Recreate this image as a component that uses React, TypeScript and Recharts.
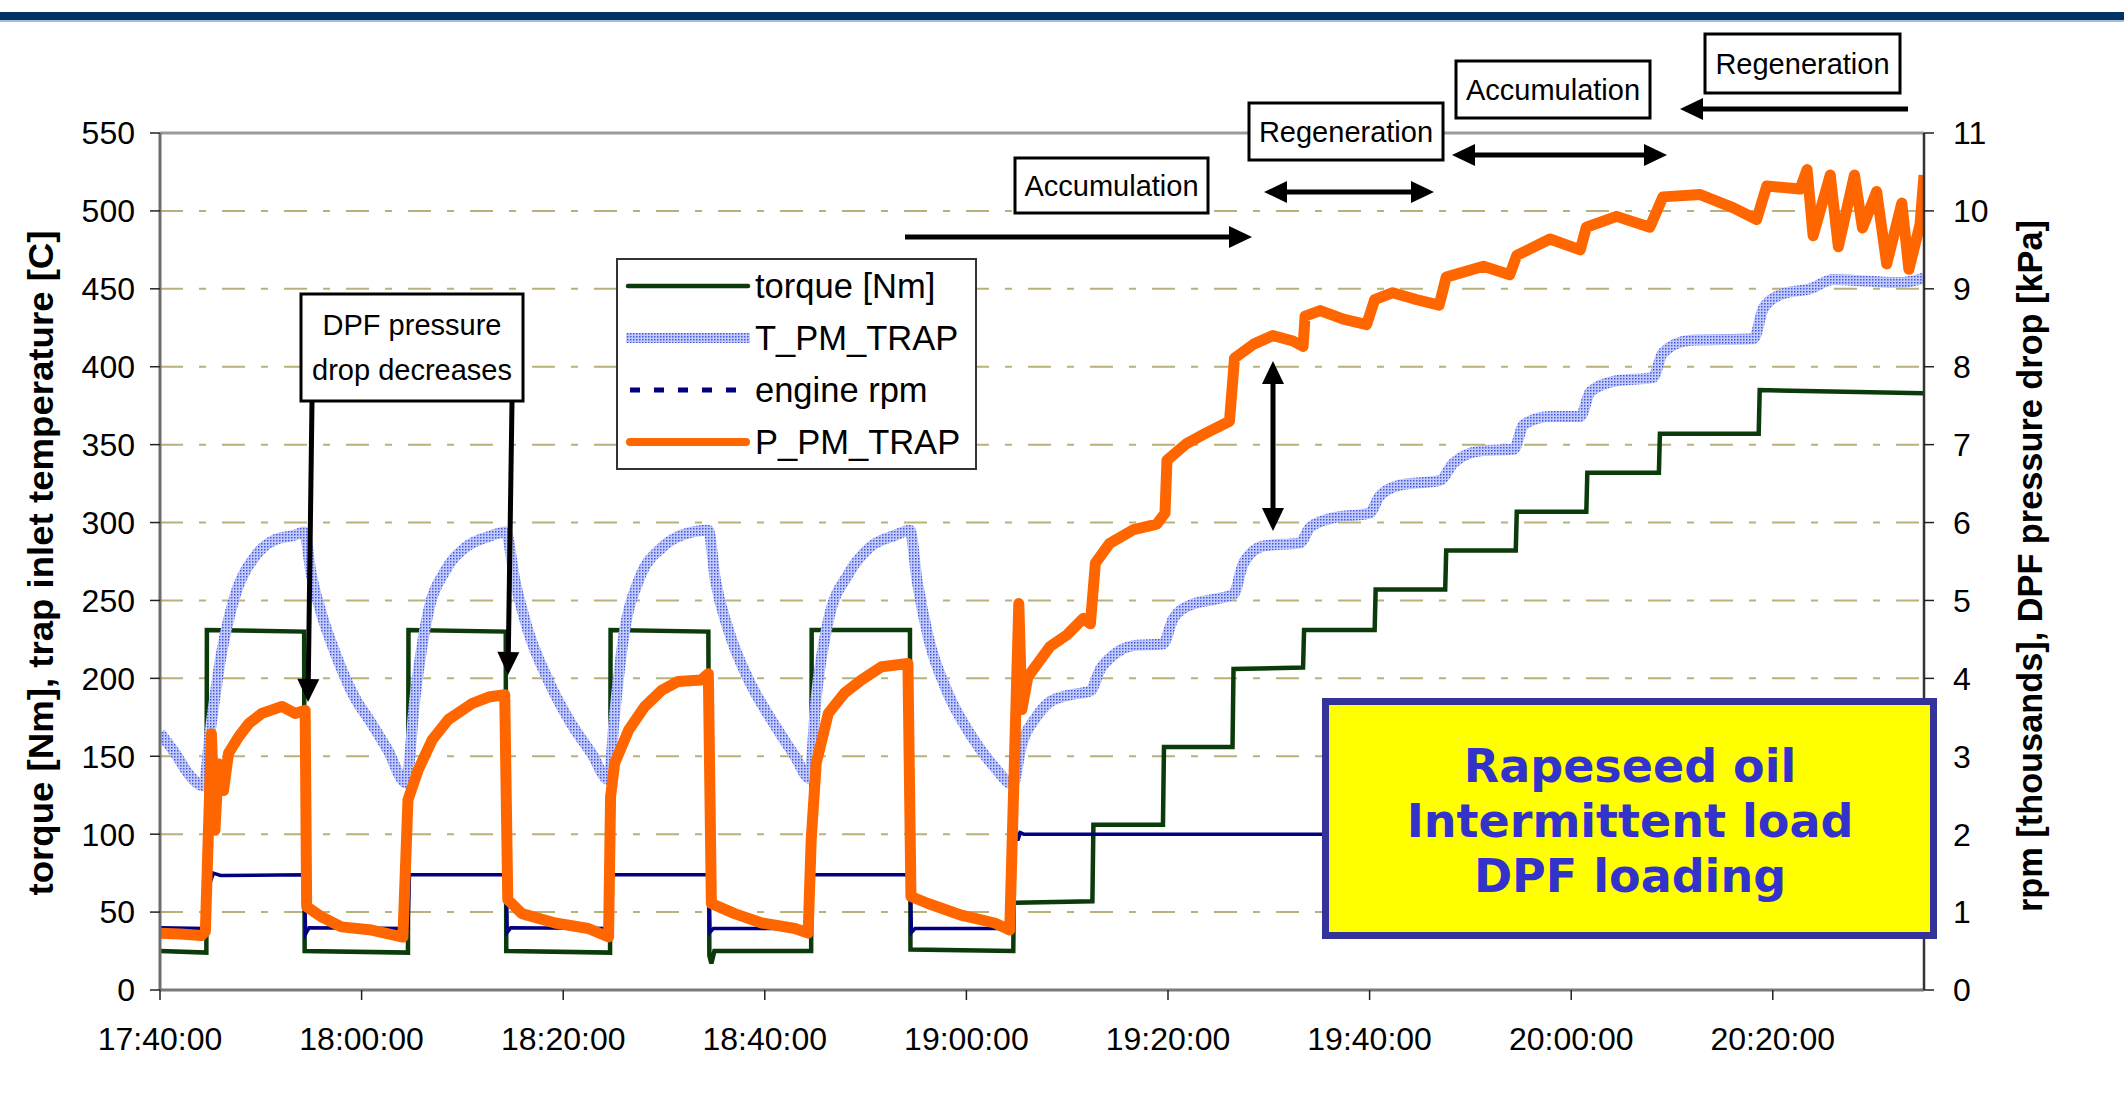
import React from 'react';
import { LineChart, Line, XAxis, YAxis, CartesianGrid, ReferenceLine } from 'recharts';

// time axis: minutes after 17:40:00
const xTicks = [0, 20, 40, 60, 80, 100, 120, 140, 160];
const xTickLabels = ['17:40:00', '18:00:00', '18:20:00', '18:40:00', '19:00:00', '19:20:00', '19:40:00', '20:00:00', '20:20:00'];
const leftTicks = [0, 50, 100, 150, 200, 250, 300, 350, 400, 450, 500, 550];
const rightTicks = [0, 1, 2, 3, 4, 5, 6, 7, 8, 9, 10, 11];

// torque [Nm]
const torqueT = [0, 4.6, 4.65, 14.3, 14.35, 24.6, 24.65, 34.3, 34.35, 44.65, 44.7, 54.4, 54.5, 54.7, 55, 64.6, 64.65, 74.4, 74.45, 84.65, 84.7, 92.5, 92.6, 99.5, 99.6, 106.4, 106.5, 113.4, 113.5, 120.5, 120.6, 127.5, 127.6, 134.5, 134.6, 141.5, 141.6, 148.7, 148.8, 158.6, 158.7, 175];
const torqueV = [25, 24, 231, 230, 25, 24, 231, 230, 25, 24, 231, 230, 22, 17, 25, 25, 231, 231, 26, 25, 56, 57, 106, 106, 156, 156, 206, 207, 231, 231, 257, 257, 282, 282, 307, 307, 332, 332, 357, 357, 385, 383];

// T_PM_TRAP [C]
const tpmT = [0, 1.5, 2.8, 4.3, 5.0, 6.1, 7.4, 9.4, 11.4, 13.4, 14.3, 15.0, 16.0, 17.4, 19.3, 21.0, 22.6, 24.4, 25.3, 26.6, 28.3, 30.3, 32.6, 34.3, 35.2, 36.5, 38.5, 40.8, 42.8, 44.5, 45.1, 46.1, 47.5, 49.8, 51.8, 54.4, 55.1, 56.4, 58.4, 60.7, 63.0, 64.4, 65.1, 66.3, 68.3, 70.4, 73.0, 74.4, 75.1, 76.2, 78.2, 80.5, 82.8, 84.6, 85.5, 86.8, 88.3, 90.0, 92.3, 93.3, 94.6, 96.6, 99.5, 100.5, 102.2, 104.8, 106.5, 107.5, 109.5, 113.1, 114.1, 116.4, 120.0, 121.0, 123.0, 127.0, 128.3, 131.0, 134.3, 135.3, 137.9, 140.9, 141.9, 144.5, 148.1, 149.1, 151.8, 158.1, 159.1, 161.1, 163.7, 166.0, 169.3, 172.6, 175];
const tpmV = [165, 152, 139, 131, 167, 216, 252, 278, 289, 292, 294, 267, 242, 216, 188, 171, 154, 133, 188, 242, 269, 284, 291, 294, 263, 231, 199, 171, 152, 135, 177, 231, 263, 284, 292, 295, 263, 231, 199, 173, 150, 136, 188, 237, 267, 284, 292, 295, 263, 227, 190, 163, 143, 132, 158, 174, 185, 189, 192, 206, 215, 221, 222, 238, 247, 251, 254, 274, 285, 287, 297, 303, 306, 317, 324, 327, 338, 346, 347, 363, 368, 368, 384, 391, 393, 409, 417, 418, 438, 447, 450, 456, 455, 454, 457];

// engine rpm [thousands]
const rpmT = [0, 4.55, 4.7, 4.95, 5.3, 6, 14.3, 14.45, 14.8, 24.6, 24.75, 34.3, 34.45, 34.8, 44.65, 44.8, 54.4, 54.55, 54.9, 64.6, 64.75, 74.4, 74.55, 74.9, 84.65, 84.8, 85.1, 85.35, 85.7, 175];
const rpmV = [0.80, 0.79, 1.72, 1.37, 1.50, 1.47, 1.48, 0.72, 0.80, 0.79, 1.48, 1.48, 0.74, 0.80, 0.79, 1.48, 1.48, 0.74, 0.79, 0.79, 1.48, 1.48, 0.74, 0.79, 0.79, 2.20, 1.92, 2.02, 2.00, 2.00];

// P_PM_TRAP, DPF pressure drop [kPa]
const ppmT = [0, 2, 4.1, 4.5, 5.1, 5.45, 5.8, 6.3, 6.8, 7.8, 8.8, 10.1, 12.1, 13.4, 14.4, 14.55, 16.0, 18.0, 21.0, 24.1, 24.6, 25.6, 27.0, 28.6, 31.0, 32.6, 34.2, 34.5, 35.9, 39.2, 42.5, 44.5, 44.7, 45.1, 46.5, 48.1, 49.8, 51.4, 53.7, 54.4, 54.7, 57.0, 59.7, 63.0, 64.3, 64.6, 65.1, 66.3, 67.9, 69.6, 71.6, 74.2, 74.5, 76.2, 79.5, 82.8, 84.3, 85.2, 85.5, 86.1, 88.3, 90.0, 91.6, 92.3, 92.8, 94.2, 96.6, 98.9, 99.7, 99.9, 101.8, 103.8, 106.1, 106.6, 108.5, 110.4, 112.4, 113.4, 113.6, 115.1, 117.4, 119.7, 120.5, 122.3, 124.7, 126.9, 127.6, 131.3, 133.9, 134.6, 137.9, 140.9, 141.5, 144.5, 147.8, 149.1, 152.8, 156.1, 158.4, 159.4, 162.7, 163.4, 164.0, 165.7, 166.5, 168.1, 168.9, 170.3, 171.3, 172.8, 173.5, 174.6, 175];
const ppmV = [0.73, 0.72, 0.70, 0.75, 3.29, 2.05, 2.90, 2.56, 3.04, 3.25, 3.42, 3.55, 3.64, 3.55, 3.59, 1.07, 0.94, 0.81, 0.77, 0.68, 2.44, 2.82, 3.21, 3.47, 3.68, 3.76, 3.79, 1.16, 0.98, 0.86, 0.79, 0.68, 2.48, 2.91, 3.34, 3.64, 3.85, 3.96, 3.98, 4.06, 1.11, 0.98, 0.86, 0.79, 0.73, 1.92, 2.91, 3.55, 3.81, 3.98, 4.15, 4.19, 1.20, 1.11, 0.96, 0.86, 0.77, 4.96, 3.60, 4.02, 4.41, 4.56, 4.77, 4.70, 5.48, 5.73, 5.91, 5.98, 6.12, 6.80, 7.01, 7.15, 7.30, 8.11, 8.29, 8.40, 8.33, 8.26, 8.65, 8.72, 8.61, 8.54, 8.86, 8.95, 8.86, 8.79, 9.15, 9.29, 9.18, 9.43, 9.64, 9.50, 9.79, 9.93, 9.79, 10.18, 10.21, 10.04, 9.89, 10.32, 10.28, 10.53, 9.68, 10.46, 9.54, 10.46, 9.78, 10.25, 9.32, 10.10, 9.25, 9.82, 10.46];

const zip = (ts: number[], vs: number[]) => ts.map((t, i) => ({ t, v: vs[i] }));

const FONT = "'Liberation Sans', Arial, sans-serif";

function Arrow({ x1, y1, x2, y2, both }: { x1: number; y1: number; x2: number; y2: number; both?: boolean }) {
  const len = Math.hypot(x2 - x1, y2 - y1);
  const ux = (x2 - x1) / len;
  const uy = (y2 - y1) / len;
  const hl = 23;
  const hw = 11;
  const head = (tx: number, ty: number, dx: number, dy: number) => {
    const bx = tx - dx * hl;
    const by = ty - dy * hl;
    return `${tx},${ty} ${bx - dy * hw},${by + dx * hw} ${bx + dy * hw},${by - dx * hw}`;
  };
  const sx = both ? x1 + ux * (hl - 2) : x1;
  const sy = both ? y1 + uy * (hl - 2) : y1;
  return (
    <g>
      <line x1={sx} y1={sy} x2={x2 - ux * (hl - 2)} y2={y2 - uy * (hl - 2)} stroke="#000" strokeWidth={5} />
      <polygon points={head(x2, y2, ux, uy)} fill="#000" />
      {both && <polygon points={head(x1, y1, -ux, -uy)} fill="#000" />}
    </g>
  );
}

function NoteBox({ x, y, w, h, lines }: { x: number; y: number; w: number; h: number; lines: string[] }) {
  const cx = x + w / 2;
  const step = 45;
  const first = y + h / 2 + 10 - ((lines.length - 1) * step) / 2;
  return (
    <g>
      <rect x={x} y={y} width={w} height={h} fill="#fff" stroke="#000" strokeWidth={3} />
      {lines.map((l, i) => (
        <text key={l} x={cx} y={first + i * step} textAnchor="middle" fontFamily={FONT} fontSize={29} fill="#000">
          {l}
        </text>
      ))}
    </g>
  );
}

const legendRows = [
  { name: 'torque [Nm]', kind: 'torque' },
  { name: 'T_PM_TRAP', kind: 'tpm' },
  { name: 'engine rpm', kind: 'rpm' },
  { name: 'P_PM_TRAP', kind: 'ppm' },
];

function Overlay() {
  return (
    <svg width={2124} height={1098} style={{ position: 'absolute', left: 0, top: 0, pointerEvents: 'none' }}>
      <defs>
        <pattern id="tpmLegend" patternUnits="userSpaceOnUse" width="3" height="3">
          <rect width="3" height="3" fill="#C3CBFA" />
          <rect width="1.5" height="1.5" fill="#4458E2" />
        </pattern>
      </defs>
      {/* header band */}
      <rect x={0} y={12} width={2124} height={8} fill="#003366" />
      <rect x={0} y={20} width={2124} height={2} fill="#A9BCD6" />

      {/* legend */}
      <rect x={617} y={259} width={359} height={210} fill="#fff" stroke="#333" strokeWidth={2} />
      {legendRows.map((r, i) => {
        const cy = 286 + i * 52;
        return (
          <g key={r.name}>
            {r.kind === 'torque' && <line x1={628} x2={748} y1={cy} y2={cy} stroke="#0B3B0B" strokeWidth={4.5} strokeLinecap="round" />}
            {r.kind === 'tpm' && <rect x={626} y={cy - 5} width={124} height={10} fill="url(#tpmLegend)" />}
            {r.kind === 'rpm' && <line x1={630} x2={748} y1={cy} y2={cy} stroke="#000080" strokeWidth={5} strokeDasharray="10 14" />}
            {r.kind === 'ppm' && <line x1={630} x2={746} y1={cy} y2={cy} stroke="#FF6600" strokeWidth={8} strokeLinecap="round" />}
            <text x={755} y={cy + 12} fontFamily={FONT} fontSize={34.5} fill="#000">
              {r.name}
            </text>
          </g>
        );
      })}

      {/* annotations */}
      <NoteBox x={301} y={294} w={222} h={107} lines={['DPF pressure', 'drop decreases']} />
      <Arrow x1={312} y1={402} x2={308} y2={702} />
      <Arrow x1={512} y1={402} x2={508} y2={675} />

      <NoteBox x={1015} y={158} w={193} h={55} lines={['Accumulation']} />
      <Arrow x1={905} y1={237} x2={1252} y2={237} />
      <NoteBox x={1249} y={103} w={194} h={57} lines={['Regeneration']} />
      <Arrow x1={1264} y1={192} x2={1434} y2={192} both />
      <NoteBox x={1456} y={61} w={194} h={57} lines={['Accumulation']} />
      <Arrow x1={1452} y1={155} x2={1667} y2={155} both />
      <NoteBox x={1705} y={34} w={195} h={59} lines={['Regeneration']} />
      <Arrow x1={1908} y1={109} x2={1680} y2={109} />
      <Arrow x1={1273} y1={361} x2={1273} y2={531} both />

      {/* highlighted caption */}
      <rect x={1325.5} y={701.5} width={608} height={234} fill="#FFFF00" stroke="#333399" strokeWidth={7} />
      {['Rapeseed oil', 'Intermittent load', 'DPF loading'].map((l, i) => (
        <text key={l} x={1630} y={782 + i * 55} textAnchor="middle" fontFamily="'DejaVu Sans', Verdana, sans-serif" fontWeight="bold" fontSize={46} fill="#3333CC">
          {l}
        </text>
      ))}
    </svg>
  );
}

export default function App() {
  const tick = { fill: '#000', fontSize: 32, fontFamily: FONT };
  return (
    <div style={{ position: 'absolute', left: 0, top: 0, width: 2124, height: 1098, background: '#fff' }}>
      <LineChart width={2124} height={1098} margin={{ top: 133, right: 0, bottom: 0, left: 0 }}>
        <defs>
          <pattern id="tpmStroke" patternUnits="userSpaceOnUse" width="3" height="3">
            <rect width="3" height="3" fill="#C3CBFA" />
            <rect width="1.5" height="1.5" fill="#4458E2" />
          </pattern>
        </defs>
        <CartesianGrid yAxisId="l" vertical={false} stroke="#B8B27A" strokeWidth={2} strokeDasharray="23 16 7 16" />
        <XAxis
          dataKey="t"
          type="number"
          domain={[0, 175]}
          ticks={xTicks}
          tickFormatter={(v: number) => xTickLabels[xTicks.indexOf(v)] ?? ''}
          height={108}
          tickSize={10}
          tickMargin={27}
          interval={0}
          allowDataOverflow
          stroke="#7a7a7a"
          axisLine={{ stroke: '#7a7a7a', strokeWidth: 3 }}
          tickLine={{ stroke: '#222', strokeWidth: 1.5 }}
          tick={tick}
        />
        <YAxis
          yAxisId="l"
          orientation="left"
          domain={[0, 550]}
          ticks={leftTicks}
          interval={0}
          width={160}
          tickSize={10}
          tickMargin={15}
          axisLine={{ stroke: '#6e6e6e', strokeWidth: 3 }}
          tickLine={{ stroke: '#222', strokeWidth: 1.5 }}
          tick={tick}
          label={{
            content: () => (
              <text x={40} y={563} transform="rotate(-90 40 563)" textAnchor="middle" dominantBaseline="central" fontFamily={FONT} fontWeight="bold" fontSize={35} textLength={665} lengthAdjust="spacingAndGlyphs" fill="#000">
                torque [Nm], trap inlet temperature [C]
              </text>
            ),
          }}
        />
        <YAxis
          yAxisId="r"
          orientation="right"
          domain={[0, 11]}
          ticks={rightTicks}
          interval={0}
          width={200}
          tickSize={10}
          tickMargin={19}
          axisLine={{ stroke: '#333', strokeWidth: 2.5 }}
          tickLine={{ stroke: '#222', strokeWidth: 1.5 }}
          tick={tick}
          label={{
            content: () => (
              <text x={2029} y={566} transform="rotate(-90 2029 566)" textAnchor="middle" dominantBaseline="central" fontFamily={FONT} fontWeight="bold" fontSize={35} textLength={692} lengthAdjust="spacingAndGlyphs" fill="#000">
                rpm [thousands], DPF pressure drop [kPa]
              </text>
            ),
          }}
        />
        <ReferenceLine yAxisId="l" y={550} stroke="#9a9a9a" strokeWidth={3} />
        <Line name="torque [Nm]" data={zip(torqueT, torqueV)} dataKey="v" yAxisId="l" type="linear" dot={false} stroke="#0B3B0B" strokeWidth={4.5} isAnimationActive={false} />
        <Line name="T_PM_TRAP" data={zip(tpmT, tpmV)} dataKey="v" yAxisId="l" type="monotone" dot={false} stroke="url(#tpmStroke)" strokeWidth={11} isAnimationActive={false} />
        <Line name="engine rpm" data={zip(rpmT, rpmV)} dataKey="v" yAxisId="r" type="linear" dot={false} stroke="#000080" strokeWidth={3.5} isAnimationActive={false} />
        <Line name="P_PM_TRAP" data={zip(ppmT, ppmV)} dataKey="v" yAxisId="r" type="linear" dot={false} stroke="#FF6600" strokeWidth={11} strokeLinejoin="round" isAnimationActive={false} />
      </LineChart>
      <Overlay />
    </div>
  );
}
